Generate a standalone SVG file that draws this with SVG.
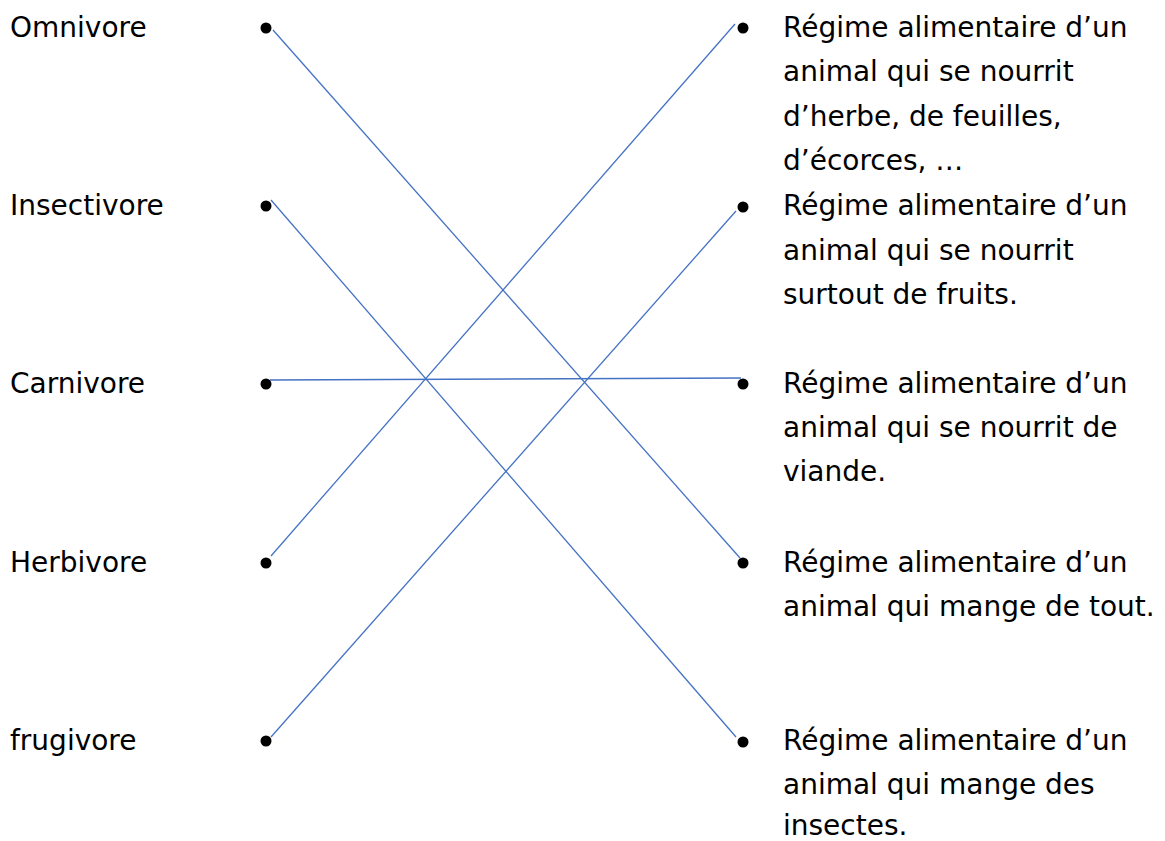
<svg xmlns="http://www.w3.org/2000/svg" width="1165" height="841" viewBox="0 0 1165 841">
<style>
text{font-family:"DejaVu Sans","Liberation Sans",sans-serif;font-size:28px;fill:#000}
.dot{fill:#000}
.c{stroke:#4472c4;stroke-width:1.3;fill:none}
</style>
<rect width="1165" height="841" fill="#fff"/>
<g id="left-omnivore"><text x="10" y="37">Omnivore</text><circle class="dot" cx="266" cy="28" r="5.5"/></g>
<g id="left-insectivore"><text x="10" y="215">Insectivore</text><circle class="dot" cx="266" cy="206" r="5.5"/></g>
<g id="left-carnivore"><text x="10" y="393">Carnivore</text><circle class="dot" cx="266" cy="384" r="5.5"/></g>
<g id="left-herbivore"><text x="10" y="572">Herbivore</text><circle class="dot" cx="266" cy="563" r="5.5"/></g>
<g id="left-frugivore"><text x="10" y="750">frugivore</text><circle class="dot" cx="266" cy="741" r="5.5"/></g>
<g id="right-1"><circle class="dot" cx="743" cy="28" r="5.5"/><text x="783" y="37">Régime alimentaire d’un</text><text x="783" y="81">animal qui se nourrit</text><text x="783" y="126">d’herbe, de feuilles,</text><text x="783" y="170">d’écorces, …</text></g>
<g id="right-2"><circle class="dot" cx="743" cy="207" r="5.5"/><text x="783" y="215">Régime alimentaire d’un</text><text x="783" y="260">animal qui se nourrit</text><text x="783" y="304">surtout de fruits.</text></g>
<g id="right-3"><circle class="dot" cx="743" cy="384" r="5.5"/><text x="783" y="393">Régime alimentaire d’un</text><text x="783" y="437">animal qui se nourrit de</text><text x="783" y="481">viande.</text></g>
<g id="right-4"><circle class="dot" cx="743" cy="563" r="5.5"/><text x="783" y="572">Régime alimentaire d’un</text><text x="783" y="616">animal qui mange de tout.</text></g>
<g id="right-5"><circle class="dot" cx="743" cy="742" r="5.5"/><text x="783" y="750">Régime alimentaire d’un</text><text x="783" y="794">animal qui mange des</text><text x="783" y="835">insectes.</text></g>
<g id="connectors">
<line class="c" x1="273" y1="30" x2="740" y2="558"/>
<line class="c" x1="271" y1="200" x2="736" y2="737"/>
<line class="c" x1="270" y1="380" x2="741" y2="378"/>
<line class="c" x1="271" y1="556" x2="735" y2="24"/>
<line class="c" x1="271" y1="737" x2="736" y2="211"/>
</g>
</svg>
